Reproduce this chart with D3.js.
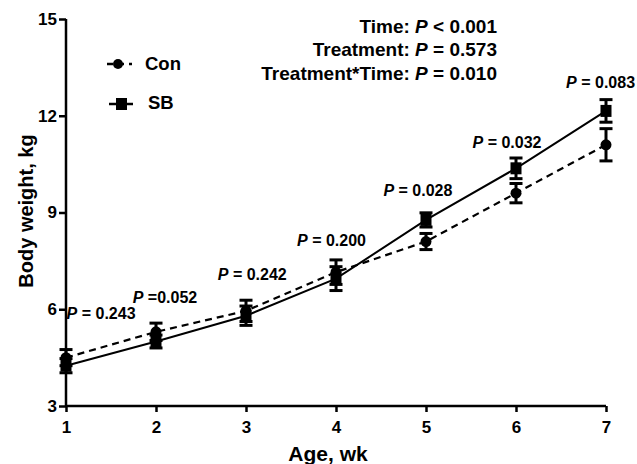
<!DOCTYPE html>
<html>
<head>
<meta charset="utf-8">
<script src="https://cdn.jsdelivr.net/npm/d3@7"></script>
<style>
  body { margin: 0; background: #fff; }
  text { font-family: "Liberation Sans", Arial, sans-serif; font-weight: bold; fill: #000; }
</style>
</head>
<body>
<svg id="chart" width="637" height="464"></svg>
<script>
// data
var weeks = [1, 2, 3, 4, 5, 6, 7];
var conMean = [4.5, 5.3, 5.95, 7.15, 8.1, 9.6, 11.1];
var conErr  = [0.25, 0.27, 0.33, 0.38, 0.25, 0.3, 0.5];
var sbMean  = [4.25, 5.0, 5.8, 6.95, 8.77, 10.37, 12.15];
var sbErr   = [0.22, 0.2, 0.3, 0.37, 0.22, 0.32, 0.35];
var pLabels = ["0.243", "0.052", "0.242", "0.200", "0.028", "0.032", "0.083"];
var pSep    = [" = ", " =", " = ", " = ", " = ", " = ", " = "];
var pX      = [1.39, 2.1, 3.07, 3.95, 4.91, 5.9, 6.94];
var pY      = [5.7, 6.2, 6.9, 7.95, 9.5, 11.0, 12.85];
var yTicks  = [3, 6, 9, 12, 15];
var stats   = [["Time: ", "P", " < 0.001"], ["Treatment: ", "P", " = 0.573"], ["Treatment*Time: ", "P", " = 0.010"]];

var svg = d3.select("#chart");
var x = d3.scaleLinear().domain([1, 7]).range([66, 606]);
var y = d3.scaleLinear().domain([3, 15]).range([406, 19]);

// axes
var xAxis = svg.append("g").attr("transform", "translate(0,406)")
  .call(d3.axisBottom(x).tickValues(weeks).tickFormat(d3.format("d")).tickSize(6).tickPadding(9));
var yAxis = svg.append("g").attr("transform", "translate(66,0)")
  .call(d3.axisLeft(y).tickValues(yTicks).tickSize(7).tickPadding(2));
[xAxis, yAxis].forEach(function (a) {
  a.select(".domain").attr("stroke", "#000").attr("stroke-width", 2.5)
    .attr("d", a === xAxis ? "M66,0H606" : "M0,19V406");
  a.selectAll(".tick line").attr("stroke", "#000").attr("stroke-width", 2.5);
  a.selectAll(".tick text").style("font-size", "17px").style("font-weight", "bold")
    .style("font-family", "'Liberation Sans', Arial, sans-serif");
});

svg.append("text").attr("x", 328).attr("y", 461).attr("text-anchor", "middle")
  .style("font-size", "21px").text("Age, wk");
svg.append("text").attr("transform", "translate(33,211) rotate(-90)").attr("text-anchor", "middle")
  .style("font-size", "20px").text("Body weight, kg");

var line = d3.line().x(function (d) { return x(d[0]); }).y(function (d) { return y(d[1]); });
var conPts = weeks.map(function (w, i) { return [w, conMean[i], conErr[i]]; });
var sbPts = weeks.map(function (w, i) { return [w, sbMean[i], sbErr[i]]; });

function errBars(pts) {
  var g = svg.append("g").attr("stroke", "#000").attr("stroke-width", 3);
  g.selectAll("line.v").data(pts).join("line")
    .attr("x1", function (d) { return x(d[0]); }).attr("x2", function (d) { return x(d[0]); })
    .attr("y1", function (d) { return y(d[1] - d[2]); }).attr("y2", function (d) { return y(d[1] + d[2]); });
  [-1, 1].forEach(function (s) {
    g.selectAll(null).data(pts).join("line")
      .attr("x1", function (d) { return x(d[0]) - 6.5; }).attr("x2", function (d) { return x(d[0]) + 6.5; })
      .attr("y1", function (d) { return y(d[1] + s * d[2]); }).attr("y2", function (d) { return y(d[1] + s * d[2]); });
  });
}
errBars(conPts);
errBars(sbPts);

svg.append("path").datum(conPts).attr("fill", "none").attr("stroke", "#000")
  .attr("stroke-width", 2.2).attr("stroke-dasharray", "7,5").attr("d", line);
svg.append("path").datum(sbPts).attr("fill", "none").attr("stroke", "#000")
  .attr("stroke-width", 2).attr("d", line);

svg.selectAll("circle.con").data(conPts).join("circle")
  .attr("cx", function (d) { return x(d[0]); }).attr("cy", function (d) { return y(d[1]); })
  .attr("r", 5.5).attr("fill", "#000");
svg.selectAll("rect.sb").data(sbPts).join("rect")
  .attr("x", function (d) { return x(d[0]) - 5.5; }).attr("y", function (d) { return y(d[1]) - 6; })
  .attr("width", 11).attr("height", 12).attr("fill", "#000");

// P value labels
weeks.forEach(function (w, i) {
  var t = svg.append("text").attr("x", x(pX[i])).attr("y", y(pY[i]))
    .attr("text-anchor", "middle").style("font-size", "16px");
  t.append("tspan").style("font-style", "italic").text("P");
  t.append("tspan").text(pSep[i] + pLabels[i]);
});

// stats block
stats.forEach(function (s, i) {
  var t = svg.append("text").attr("x", 497).attr("y", 33 + i * 23.3)
    .attr("text-anchor", "end").style("font-size", "19px");
  t.append("tspan").text(s[0]);
  t.append("tspan").style("font-style", "italic").text(s[1]);
  t.append("tspan").text(s[2]);
});

// legend
var lg = svg.append("g");
lg.append("line").attr("x1", 107).attr("x2", 132).attr("y1", 64).attr("y2", 64)
  .attr("stroke", "#000").attr("stroke-width", 2.5).attr("stroke-dasharray", "6,5");
lg.append("circle").attr("cx", 118).attr("cy", 64).attr("r", 5).attr("fill", "#000");
lg.append("text").attr("x", 145).attr("y", 70).style("font-size", "18.5px").text("Con");
lg.append("line").attr("x1", 109).attr("x2", 133).attr("y1", 104).attr("y2", 104)
  .attr("stroke", "#000").attr("stroke-width", 2.5);
lg.append("rect").attr("x", 116).attr("y", 98).attr("width", 11).attr("height", 12).attr("fill", "#000");
lg.append("text").attr("x", 148).attr("y", 109).style("font-size", "18.5px").text("SB");
</script>
</body>
</html>
